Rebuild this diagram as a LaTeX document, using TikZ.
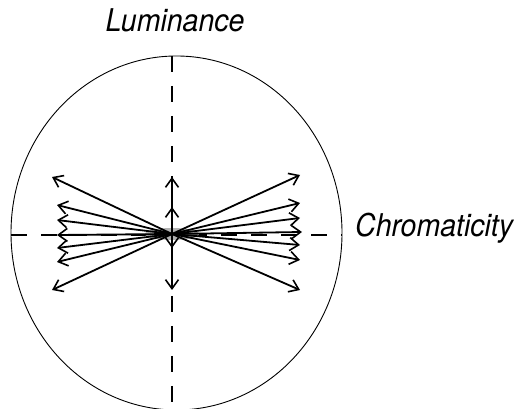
\documentclass[tikz,border=0pt]{standalone}
\usepackage{fontspec}
\setmainfont{TeX Gyre Heros}
\usetikzlibrary{arrows.meta}
\begin{document}
\begin{tikzpicture}[x=1pt,y=1pt,
  vec/.style={line width=1.8pt,-{Straight Barb[length=9pt,width=13pt,line width=1.6pt]}},
  axisline/.style={line width=1.2pt,dash pattern=on 16pt off 14pt},
  lbl/.style={font=\fontsize{28.5}{32}\selectfont\itshape,inner sep=0pt,yscale=1.1}]
\useasboundingbox (0,0) rectangle (514,409);
\begin{scope}
\clip (0,0) rectangle (514,409);
\draw[line width=0.9pt] (176.5,176) ellipse [x radius=165.5, y radius=177];
\end{scope}
\coordinate (O) at (172,175);
\coordinate (vt) at (172,353);
\coordinate (vb) at (172,0);
\coordinate (hl) at (11,174);
\coordinate (hr) at (342,174);
\draw[axisline] (vt) -- (vb);
\draw[axisline] (hl) -- (hr);
\fill[gray!60] (O) ellipse [x radius=27, y radius=6];
% left arrows
\foreach \n/\x/\y in {l1/52/232, l2/57/204, l3/57/189, l4/57/174, l5/57/161, l6/57/147, l7/52/119}{
  \coordinate (\n) at (\x,\y);
  \draw[vec] (O) -- (\n);
}
% right arrows
\foreach \n/\x/\y in {r1/300/234, r2/300/206, r3/300/191, r4/302/177, r5/300/164, r6/300/149, r7/300/119}{
  \coordinate (\n) at (\x,\y);
  \draw[vec] (O) -- (\n);
}
% vertical arrows
\foreach \n/\y in {u1/232, u2/202, d1/161, d2/119}{
  \coordinate (\n) at (172,\y);
  \draw[vec] (O) -- (\n);
}
\node[lbl,anchor=base] (lum) at (175,377) {Luminance};
\node[lbl,anchor=base west] (chr) at (355,172) {Chromaticity};
\end{tikzpicture}
\end{document}
